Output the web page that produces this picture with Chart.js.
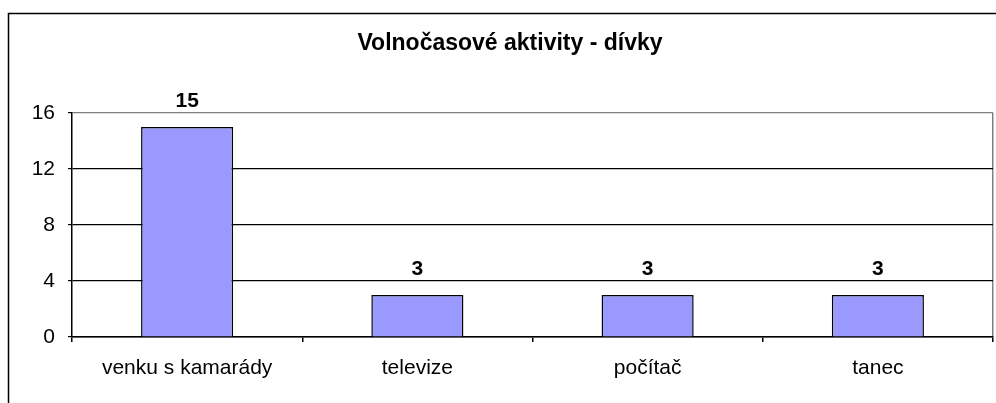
<!DOCTYPE html>
<html>
<head>
<meta charset="utf-8">
<script src="https://cdn.jsdelivr.net/npm/chart.js@4.4.1/dist/chart.umd.min.js"></script>
<style>
html,body{margin:0;padding:0;background:#fff;}
#wrap{width:996px;height:403px;position:relative;}
</style>
</head>
<body>
<div id="wrap"><canvas id="c" width="996" height="403"></canvas></div>
<script>
const titleText = 'Volnočasové aktivity - dívky';
const categories = ['venku s kamarády', 'televize', 'počítač', 'tanec'];
const values = [15, 3, 3, 3];
const yTicks = [0, 4, 8, 12, 16];

const FONT = "'Liberation Sans', Arial, sans-serif";

const frame = {
  id: 'frame',
  beforeDraw(chart) {
    const c = chart.ctx;
    c.save();
    c.fillStyle = '#fff';
    c.fillRect(0, 0, chart.width, chart.height);
    c.strokeStyle = '#000';
    c.lineWidth = 1.5;
    c.strokeRect(8.5, 13.5, 2000, 2000);
    c.restore();
  }
};

const valueLabels = {
  id: 'valueLabels',
  afterDatasetsDraw(chart) {
    const c = chart.ctx;
    const meta = chart.getDatasetMeta(0);
    c.save();
    c.font = 'bold 21px ' + FONT;
    c.fillStyle = '#000';
    c.textAlign = 'center';
    c.textBaseline = 'middle';
    meta.data.forEach((el, i) => {
      c.fillText(String(values[i]), el.x, el.y - 26);
    });
    c.restore();
  }
};

new Chart(document.getElementById('c'), {
  type: 'bar',
  data: {
    labels: categories,
    datasets: [{
      data: values,
      backgroundColor: '#9999FF',
      borderColor: '#000',
      borderWidth: 1.5,
      barPercentage: 0.4,
      categoryPercentage: 1.0
    }]
  },
  options: {
    responsive: false,
    animation: false,
    events: [],
    layout: { padding: { left: 27, right: 3, top: 0, bottom: 0 } },
    plugins: {
      legend: { display: false },
      tooltip: { enabled: false },
      title: {
        display: true,
        text: titleText,
        color: '#000',
        font: { family: FONT, size: 23, weight: 'bold', lineHeight: 1.2 },
        padding: { top: 30.2, bottom: 55.2 }
      }
    },
    scales: {
      x: {
        offset: true,
        afterFit(scale) { scale.height = 66; },
        grid: {
          offset: true,
          drawOnChartArea: true,
          color: (ctx) => ctx.type === 'scale' ? '#808080' : 'rgba(0,0,0,0)',
          tickColor: '#000',
          tickLength: 5,
          lineWidth: 1.5
        },
        border: { display: true, color: '#000', width: 1.5 },
        ticks: {
          color: '#000',
          padding: 13.4,
          font: { family: FONT, size: 21 },
          maxRotation: 0,
          autoSkip: false
        }
      },
      y: {
        min: 0,
        max: 16,
        afterFit(scale) { scale.width = 45; },
        afterBuildTicks(scale) { scale.ticks = yTicks.map(v => ({ value: v })); },
        grid: {
          color: (ctx) => (ctx.tick && ctx.tick.value === 16) ? '#808080' : '#000',
          tickColor: '#000',
          tickLength: 4,
          lineWidth: 1.2
        },
        border: { display: true, color: '#000', width: 1.5 },
        ticks: {
          color: '#000',
          padding: 13,
          font: { family: FONT, size: 21 }
        }
      }
    }
  },
  plugins: [frame, valueLabels]
});
</script>
</body>
</html>
